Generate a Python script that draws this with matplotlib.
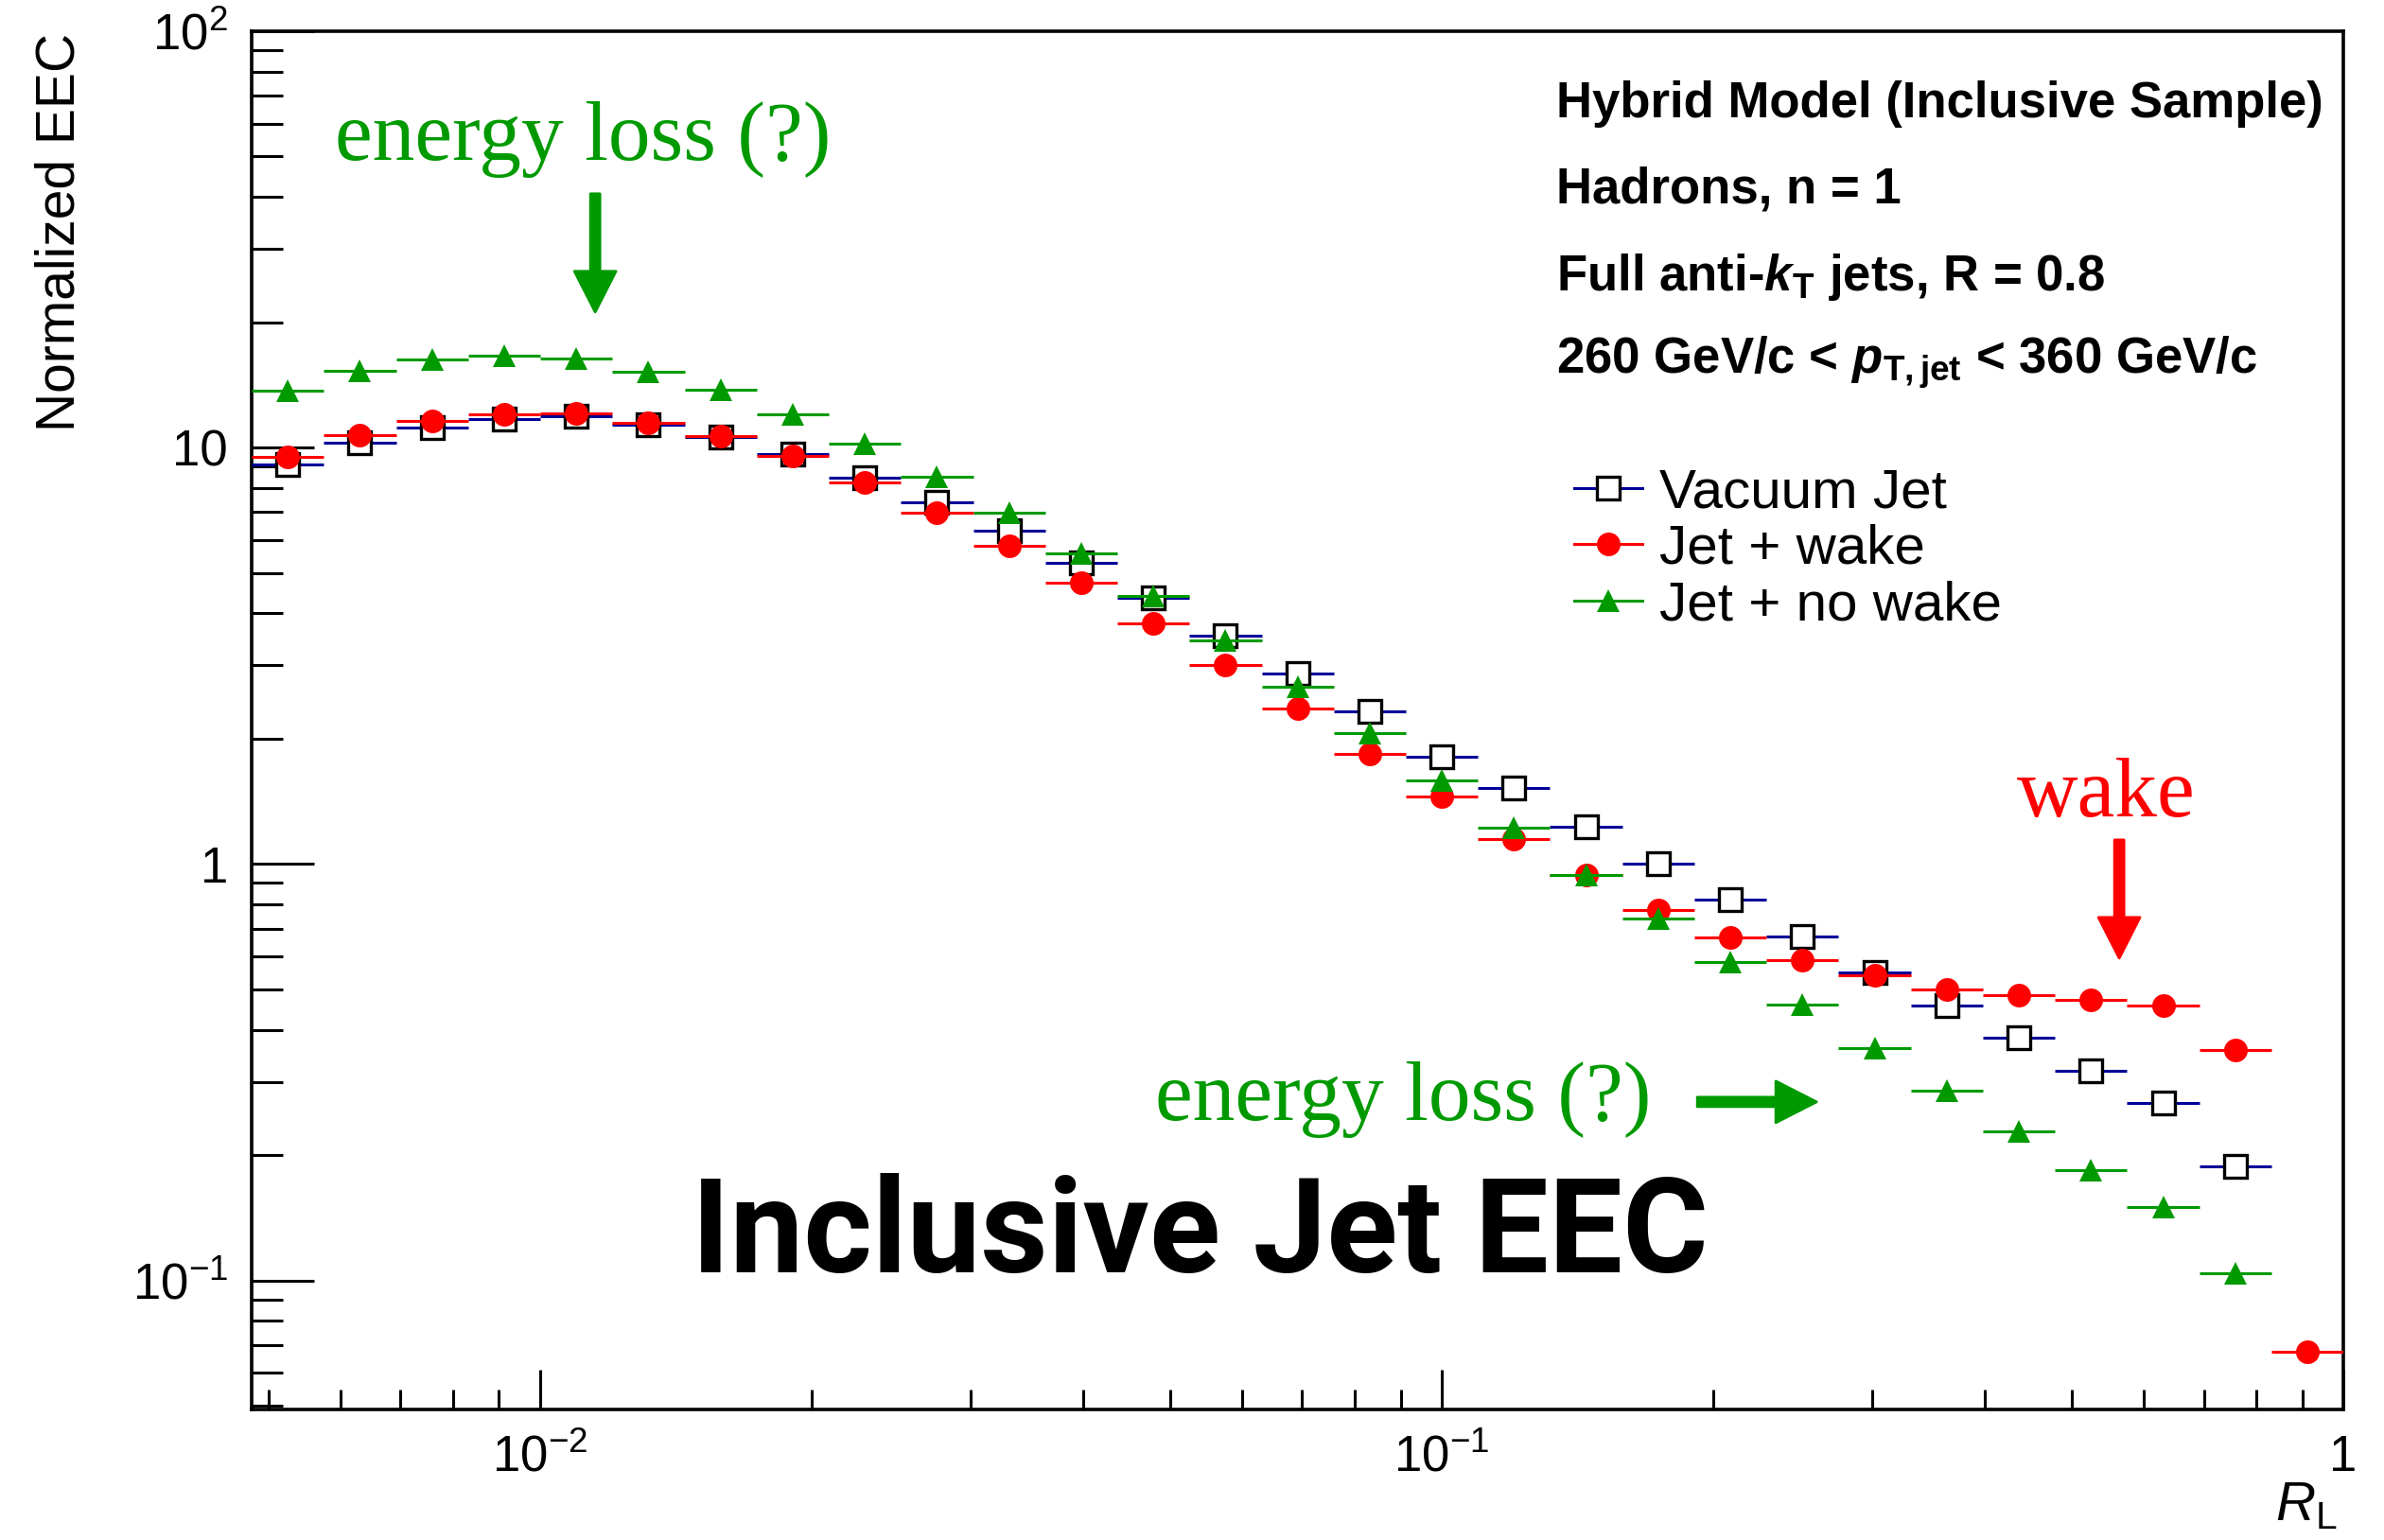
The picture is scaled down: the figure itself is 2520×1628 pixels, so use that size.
import numpy as np
import matplotlib.pyplot as plt
from matplotlib.lines import Line2D
from matplotlib.ticker import FixedLocator, FixedFormatter, LogLocator, NullFormatter

plt.rcParams['font.family'] = 'Liberation Sans'
plt.rcParams['mathtext.fontset'] = 'custom'
plt.rcParams['mathtext.rm'] = 'Liberation Sans'
plt.rcParams['mathtext.it'] = 'Liberation Sans:italic'
plt.rcParams['mathtext.bf'] = 'Liberation Sans:bold'
plt.rcParams['mathtext.bfit'] = 'Liberation Sans:bold:italic'

# 29 log-spaced bins in R_L
bin_edges = np.logspace(-2.32, 0.0, 30)

# normalized EEC per bin (nan = empty bin)
vacuum = [9.12, 10.28, 11.14, 11.70, 11.89, 11.36, 10.59, 9.64, 8.47, 7.38,
          6.31, 5.28, 4.35, 3.54, 2.87, 2.33, 1.81, 1.52, 1.23, 1.00,
          0.821, 0.671, 0.549, 0.456, 0.382, 0.319, 0.267, 0.188, np.nan]
wake = [9.51, 10.70, 11.58, 12.03, 12.05, 11.44, 10.66, 9.55, 8.24, 6.96,
        5.80, 4.74, 3.79, 3.01, 2.36, 1.84, 1.45, 1.15, 0.939, 0.775,
        0.666, 0.589, 0.539, 0.499, 0.483, 0.472, 0.458, 0.357, 0.0673]
no_wake = [13.69, 15.30, 16.24, 16.61, 16.33, 15.17, 13.76, 12.01, 10.21, 8.49,
           6.97, 5.58, 4.40, 3.44, 2.66, 2.06, 1.59, 1.225, 0.939, 0.739,
           0.581, 0.459, 0.362, 0.286, 0.228, 0.184, 0.150, 0.104, np.nan]

labels = ["Vacuum Jet", "Jet + wake", "Jet + no wake"]
info_lines = [
    "Hybrid Model (Inclusive Sample)",
    "Hadrons, n = 1",
    r"Full anti-$\mathbfit{k}_{\mathbf{T}}$ jets, R = 0.8",
    r"260 GeV/c < $\mathbfit{p}_{\mathbf{T,jet}}$ < 360 GeV/c",
]

blue = '#000099'
red = '#ff0000'
green = '#009a00'

centers = np.sqrt(bin_edges[:-1] * bin_edges[1:])
xerr = [centers - bin_edges[:-1], bin_edges[1:] - centers]

fig = plt.figure(figsize=(12.6, 8.14), dpi=200)
ax = fig.add_axes([0.1056, 0.0848, 0.8774, 0.8950])
ax.set_xscale('log')
ax.set_yscale('log')

ax.errorbar(centers, vacuum, xerr=xerr, fmt='s', color=blue, ecolor=blue,
            elinewidth=1.1, ms=8.4, mfc='white', mec='black', mew=1.2, capsize=0, zorder=3)
ax.errorbar(centers, wake, xerr=xerr, fmt='o', color=red, ecolor=red,
            elinewidth=1.1, ms=9.0, mec=red, mew=0, capsize=0, zorder=4)
ax.errorbar(centers, no_wake, xerr=xerr, fmt='^', color=green, ecolor=green,
            elinewidth=1.1, ms=8.8, mec=green, mew=0, capsize=0, zorder=5)

ax.set_xlim(bin_edges[0], 1.0)
ax.set_ylim(0.049, 100)

# ROOT-like ticks: inward, only on left and bottom
ax.xaxis.set_major_locator(FixedLocator([0.01, 0.1, 1.0]))
ax.xaxis.set_major_formatter(FixedFormatter([r'$10^{-2}$', r'$10^{-1}$', '1']))
ax.xaxis.set_minor_locator(LogLocator(base=10, subs=np.arange(2, 10)))
ax.xaxis.set_minor_formatter(NullFormatter())
ax.yaxis.set_major_locator(FixedLocator([0.1, 1.0, 10.0, 100.0]))
ax.yaxis.set_major_formatter(FixedFormatter([r'$10^{-1}$', '1', '10', r'$10^{2}$']))
ax.yaxis.set_minor_locator(LogLocator(base=10, subs=np.arange(2, 10)))
ax.yaxis.set_minor_formatter(NullFormatter())

ax.tick_params(axis='both', which='both', direction='in', top=False, right=False,
               width=1.1, labelsize=19)
ax.tick_params(axis='y', which='major', length=23.8, pad=9)
ax.tick_params(axis='y', which='minor', length=11.9)
ax.tick_params(axis='x', which='major', length=15, pad=9.5)
ax.tick_params(axis='x', which='minor', length=7.6)
for sp in ax.spines.values():
    sp.set_linewidth(1.3)

fig.text(64 / 2520, 1 - 35 / 1628, 'Normalized EEC', rotation=90,
         ha='center', va='top', fontsize=20.5)
fig.text(2470 / 2520, 1 - 1607 / 1628, r'$R_{\mathrm{L}}$', ha='right',
         va='baseline', fontsize=21)

for line, yy in zip(info_lines, [0.9375, 0.8751, 0.8119, 0.7515]):
    ax.text(0.6237, yy, line, transform=ax.transAxes, fontsize=19,
            fontweight='bold', ha='left', va='baseline')

handles = [
    Line2D([], [], color=blue, lw=1.1, marker='s', ms=8.4, mfc='white', mec='black', mew=1.2),
    Line2D([], [], color=red, lw=1.1, marker='o', ms=9.0, mfc=red, mew=0),
    Line2D([], [], color=green, lw=1.1, marker='^', ms=8.8, mfc=green, mew=0),
]
ax.legend(handles, labels, loc='upper left', bbox_to_anchor=(0.6321, 0.6835),
          frameon=False, fontsize=21, handlelength=1.24, handletextpad=0.3,
          labelspacing=0.1, borderpad=0, borderaxespad=0)

# annotations
serif = 'Liberation Serif'
arrow_kw = dict(width=3.6, headwidth=15.8, headlength=15.5, shrink=0)
ax.text(0.0398, 0.9067, 'energy loss (?)', transform=ax.transAxes, family=serif,
        fontsize=32.2, color=green, ha='left', va='baseline')
ax.annotate('', xy=(0.1642, 0.7962), xytext=(0.1642, 0.8820), xycoords='axes fraction',
            arrowprops=dict(color=green, **arrow_kw))
ax.text(0.4319, 0.2100, 'energy loss (?)', transform=ax.transAxes, family=serif,
        fontsize=32.2, color=green, ha='left', va='baseline')
ax.annotate('', xy=(0.7481, 0.2231), xytext=(0.6911, 0.2231), xycoords='axes fraction',
            arrowprops=dict(color=green, **arrow_kw))
ax.text(0.8440, 0.4303, 'wake', transform=ax.transAxes, family=serif,
        fontsize=32.2, color=red, ha='left', va='baseline')
ax.annotate('', xy=(0.8928, 0.3274), xytext=(0.8928, 0.4132), xycoords='axes fraction',
            arrowprops=dict(color=red, **arrow_kw))
ax.text(0.2103, 0.0995, 'Inclusive Jet EEC', transform=ax.transAxes, family='Roboto',
        fontsize=50, fontweight='bold', ha='left', va='baseline')

fig.savefig('out.png', dpi=200)
